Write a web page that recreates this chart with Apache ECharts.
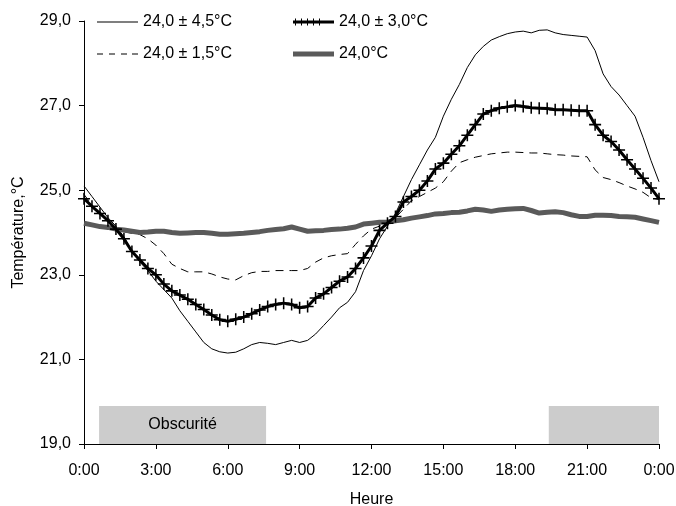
<!DOCTYPE html>
<html>
<head>
<meta charset="utf-8">
<script src="https://cdn.jsdelivr.net/npm/echarts@6/dist/echarts.min.js"></script>
<style>
  html, body { margin: 0; padding: 0; background: #fff; }
  #chart { width: 676px; height: 506px; }
</style>
</head>
<body>
<div id="chart"></div>
<script>
// readings every 20 min, from 0:00 to 24:00
const hours = [];
for (let i = 0; i <= 72; i++) hours.push(i / 3);

const temp45 = [25.10, 24.85, 24.60, 24.35, 24.15, 23.90, 23.55, 23.30, 23.10, 22.85, 22.65, 22.45,
  22.15, 21.90, 21.65, 21.40, 21.25, 21.18, 21.15, 21.17, 21.25, 21.35, 21.40, 21.38,
  21.35, 21.40, 21.45, 21.40, 21.45, 21.60, 21.80, 22.00, 22.22, 22.35, 22.60, 23.10,
  23.45, 23.85, 24.15, 24.45, 24.85, 25.25, 25.60, 25.95, 26.25, 26.75, 27.15, 27.50,
  27.90, 28.20, 28.40, 28.55, 28.63, 28.70, 28.74, 28.76, 28.72, 28.78, 28.79, 28.72,
  28.68, 28.66, 28.64, 28.62, 28.30, 27.75, 27.45, 27.25, 27.00, 26.75, 26.25, 25.70, 25.20];

const temp30 = [24.80, 24.62, 24.45, 24.28, 24.08, 23.85, 23.55, 23.35, 23.15, 23.00, 22.78, 22.62,
  22.52, 22.42, 22.30, 22.18, 22.05, 21.94, 21.90, 21.95, 22.00, 22.08, 22.17, 22.25,
  22.30, 22.33, 22.30, 22.22, 22.25, 22.45, 22.55, 22.70, 22.85, 22.95, 23.15, 23.40,
  23.68, 24.05, 24.22, 24.38, 24.72, 24.85, 25.00, 25.22, 25.50, 25.64, 25.85, 26.05,
  26.30, 26.55, 26.80, 26.88, 26.94, 26.97, 27.00, 26.98, 26.95, 26.94, 26.93, 26.90,
  26.90, 26.89, 26.88, 26.88, 26.55, 26.30, 26.15, 25.95, 25.72, 25.50, 25.28, 25.05, 24.80];

const temp15 = [24.90, 24.65, 24.45, 24.25, 24.10, 24.02, 23.98, 23.95, 23.85, 23.70, 23.50, 23.25,
  23.15, 23.07, 23.07, 23.07, 23.02, 22.95, 22.90, 22.88, 22.98, 23.05, 23.08, 23.08,
  23.10, 23.10, 23.10, 23.10, 23.15, 23.30, 23.40, 23.45, 23.48, 23.50, 23.72, 23.92,
  24.08, 24.15, 24.22, 24.35, 24.55, 24.75, 24.85, 24.95, 25.05, 25.20, 25.45, 25.65,
  25.72, 25.78, 25.82, 25.86, 25.88, 25.90, 25.90, 25.89, 25.88, 25.88, 25.86, 25.84,
  25.83, 25.81, 25.80, 25.79, 25.48, 25.30, 25.25, 25.18, 25.10, 25.03, 24.95, 24.82, 24.78];

const temp00 = [24.22, 24.18, 24.14, 24.12, 24.08, 24.06, 24.03, 24.00, 24.01, 24.03, 24.03, 24.00,
  23.98, 23.99, 24.00, 24.00, 23.98, 23.96, 23.96, 23.97, 23.98, 24.00, 24.02, 24.05,
  24.07, 24.09, 24.13, 24.08, 24.03, 24.04, 24.05, 24.07, 24.08, 24.10, 24.13, 24.20,
  24.22, 24.24, 24.25, 24.28, 24.30, 24.34, 24.37, 24.40, 24.44, 24.45, 24.47, 24.48,
  24.51, 24.55, 24.53, 24.50, 24.53, 24.55, 24.56, 24.57, 24.52, 24.46, 24.48, 24.49,
  24.47, 24.42, 24.38, 24.38, 24.41, 24.41, 24.40, 24.38, 24.37, 24.36, 24.32, 24.28, 24.24];

// dark periods (hours) shown as grey boxes along the bottom
const darkPeriods = [[0.63, 7.6], [19.4, 24]];
const darkTop = 19.9;
const darkLabel = 'Obscurité';

const FONT = 'Liberation Sans';

// legend samples drawn like the original (line only, bar with ticks)
const iconThin = 'path://M0,0h41v1h-41z';
const iconDash = 'path://M0,0h6v1h-6zM12,0h6v1h-6zM24,0h6v1h-6zM35,0h6v1h-6z';
const iconCross = 'path://M0,2h41v3h-41zM2,0h1v7h-1zM8,0h1v7h-1zM14,0h1v7h-1zM20,0h1v7h-1zM26,0h1v7h-1z';
const iconThick = 'path://M0,0h41v5h-41z';

const pairs = (vals) => vals.map((v, i) => [hours[i], v]);

const chart = echarts.init(document.getElementById('chart'));

const legendBase = {
  orient: 'vertical', top: 14, padding: 0,
  itemWidth: 41, itemHeight: 14, itemGap: 16,
  textStyle: { fontFamily: FONT, fontSize: 16, color: '#000' }
};

const option = {
  animation: false,
  backgroundColor: '#fff',
  textStyle: { fontFamily: FONT, color: '#000' },
  grid: { left: 84, right: 17, top: 21, bottom: 62, outerBoundsMode: 'none', containLabel: false },
  legend: [
    Object.assign({}, legendBase, {
      left: 97,
      data: [
        { name: '24,0 ± 4,5°C', icon: iconThin },
        { name: '24,0 ± 1,5°C', icon: iconDash }
      ]
    }),
    Object.assign({}, legendBase, {
      left: 293,
      data: [
        { name: '24,0 ± 3,0°C', icon: iconCross },
        { name: '24,0°C', icon: iconThick }
      ]
    })
  ],
  xAxis: {
    type: 'value', min: 0, max: 24, interval: 3,
    name: 'Heure', nameLocation: 'middle', nameGap: 48,
    nameTextStyle: { fontFamily: FONT, fontSize: 16, color: '#000' },
    axisLine: { lineStyle: { color: '#000', width: 1 } },
    axisTick: { length: 5, lineStyle: { color: '#000' } },
    axisLabel: {
      fontFamily: FONT, fontSize: 16, color: '#000', margin: 19,
      formatter: (v) => (v % 24) + ':00'
    },
    splitLine: { show: false }
  },
  yAxis: {
    type: 'value', min: 19, max: 29, interval: 2,
    name: 'Température,°C', nameLocation: 'middle', nameGap: 57,
    nameTextStyle: { fontFamily: FONT, fontSize: 16, color: '#000' },
    axisLine: { show: true, lineStyle: { color: '#000', width: 1 } },
    axisTick: { show: true, length: 5, lineStyle: { color: '#000' } },
    axisLabel: {
      fontFamily: FONT, fontSize: 16, color: '#000', margin: 13,
      formatter: (v) => v.toFixed(1).replace('.', ',')
    },
    splitLine: { show: false }
  },
  series: [
    {
      name: '24,0 ± 4,5°C', type: 'line', data: pairs(temp45),
      showSymbol: false, symbol: 'none', z: 2,
      lineStyle: { color: '#000', width: 1 },
      itemStyle: { color: '#000' },
      markArea: {
        silent: true,
        itemStyle: { color: '#cccccc' },
        label: { show: true, position: 'inside', fontFamily: FONT, fontSize: 16, color: '#000' },
        data: darkPeriods.map((p, i) => [
          { xAxis: p[0], yAxis: 19, name: i === 0 ? darkLabel : '' },
          { xAxis: p[1], yAxis: darkTop }
        ])
      }
    },
    {
      name: '24,0 ± 1,5°C', type: 'line', data: pairs(temp15),
      showSymbol: false, symbol: 'none', z: 2,
      lineStyle: { color: '#000', width: 1, type: [8, 6] },
      itemStyle: { color: '#000' }
    },
    {
      name: '24,0°C', type: 'line', data: pairs(temp00),
      showSymbol: false, symbol: 'none', z: 3,
      lineStyle: { color: '#5a5a5a', width: 5 },
      itemStyle: { color: '#5a5a5a' }
    },
    {
      name: '24,0 ± 3,0°C', type: 'line', data: pairs(temp30),
      symbol: 'path://M9.6,0h2.8v22h-2.8zM0,9.6h22v2.8h-22z', symbolSize: 12, showSymbol: true, z: 4,
      lineStyle: { color: '#000', width: 3 },
      itemStyle: { color: '#000' }
    }
  ]
};

chart.setOption(option);
</script>
</body>
</html>
